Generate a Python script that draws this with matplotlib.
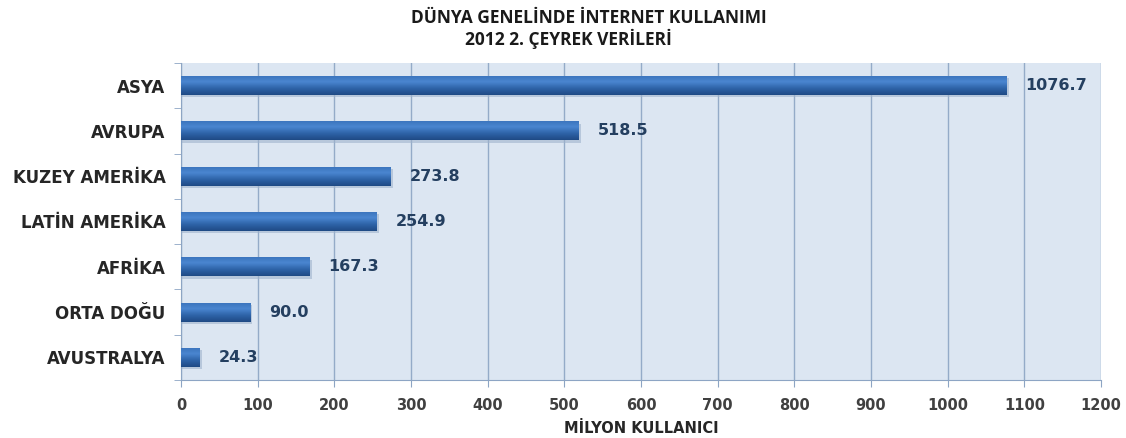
import numpy as np
import matplotlib
matplotlib.use("Agg")
import matplotlib.pyplot as plt
from matplotlib.colors import LinearSegmentedColormap

regions = ['ASYA', 'AVRUPA', 'KUZEY AMERİKA', 'LATİN AMERİKA', 'AFRİKA', 'ORTA DOĞU', 'AVUSTRALYA']
users = [1076.7, 518.5, 273.8, 254.9, 167.3, 90.0, 24.3]
xticks = [0, 100, 200, 300, 400, 500, 600, 700, 800, 900, 1000, 1100, 1200]

fig = plt.figure(figsize=(11.26, 4.38), dpi=100)
ax = fig.add_axes([0.1607, 0.1324, 0.8171, 0.7238])
ax.set_facecolor('#dce6f2')

y = np.arange(len(regions))[::-1]
h = 0.42
cmap = LinearSegmentedColormap.from_list('bar', ['#1f4a85', '#2e63a8', '#4a86d0', '#3a72bb'])
grad = np.linspace(0, 1, 64).reshape(-1, 1)

for yi, v in zip(y, users):
    # golge
    ax.barh(yi - 0.05, v + 3, height=h, left=0, color='#9fb3cc', alpha=0.6, zorder=2)
    b = ax.barh(yi, v, height=h, color='#2e63a8', zorder=3)[0]
    im = ax.imshow(grad, extent=[0, v, yi - h / 2, yi + h / 2], cmap=cmap,
                   aspect='auto', zorder=4, origin='lower')
    im.set_clip_path(b)
    ax.text(v + 25, yi, f'{v:.1f}', va='center', ha='left', fontsize=11.5,
            fontweight='heavy', color='#243f60', zorder=5)

ax.set_xlim(0, 1200)
ax.set_ylim(-0.5, len(regions) - 0.5)
ax.set_xticks(xticks)
ax.set_xticklabels([str(t) for t in xticks], fontsize=10.5, fontweight='bold', color='#404040')
ax.set_yticks(y)
ax.set_yticklabels(regions, fontsize=12, fontweight='bold', color='#262626')
ax.set_yticks(np.arange(len(regions) + 1) - 0.5, minor=True)
ax.tick_params(axis='y', which='major', length=0, pad=11)
ax.tick_params(axis='y', which='minor', length=5, color='#8da5c4')
ax.tick_params(axis='x', length=5, color='#8da5c4', pad=8)
ax.grid(axis='x', color='#94abc8', linewidth=1, zorder=1)
ax.set_axisbelow(True)
for s in ['top', 'right']:
    ax.spines[s].set_visible(False)
ax.spines['left'].set_color('#8da5c4')
ax.spines['bottom'].set_color('#8da5c4')

ax.set_xlabel('MİLYON KULLANICI', fontsize=10.5, fontweight='bold', color='#262626', labelpad=6)

fig.text(0.523, 0.96, 'DÜNYA GENELİNDE İNTERNET KULLANIMI', ha='center', va='center',
         fontsize=12.5, fontweight='bold', family='Open Sans', color='#1a1a1a')
fig.text(0.505, 0.91, '2012 2. ÇEYREK VERİLERİ', ha='center', va='center',
         fontsize=12.5, fontweight='bold', family='Open Sans', color='#1a1a1a')

fig.savefig('out.png', dpi=100)
